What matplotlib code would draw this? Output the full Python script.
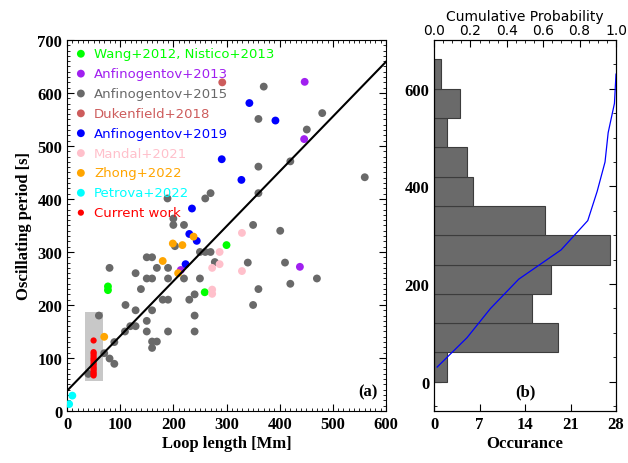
import matplotlib
matplotlib.use("Agg")
import matplotlib.pyplot as plt
from matplotlib.patches import Rectangle
from matplotlib.ticker import MultipleLocator
import numpy as np

# loop length [Mm], period [s] for each study
wang_x = [77, 77, 259, 300]
wang_y = [228, 235, 224, 313]
anf13_x = [447, 446, 438, 214]
anf13_y = [621, 513, 272, 266]
anf15_x = [370, 360, 480, 451, 360, 420, 560, 360, 189, 260, 270, 200, 200, 220, 350, 401,
           250, 260, 270, 150, 160, 278, 340, 410, 80, 169, 190, 129, 150, 160, 190, 220,
           250, 470, 420, 360, 139, 240, 180, 190, 230, 350, 110, 129, 160, 240, 60, 150,
           119, 129, 109, 150, 190, 240, 89, 160, 169, 160, 70, 80, 89, 40, 203]
anf15_y = [612, 551, 562, 531, 461, 471, 441, 411, 401, 401, 411, 363, 351, 351, 351, 340,
           300, 300, 300, 290, 290, 281, 280, 280, 270, 270, 270, 260, 250, 250, 250, 250,
           250, 250, 240, 230, 230, 220, 210, 210, 210, 200, 200, 190, 190, 180, 180, 170,
           160, 160, 150, 150, 150, 150, 130, 131, 131, 119, 109, 99, 89, 70, 311]
duk_x = [292]
duk_y = [620]
anf19_x = [343, 392, 291, 328, 235, 230, 244, 223]
anf19_y = [581, 548, 475, 436, 382, 334, 321, 277]
mandal_x = [329, 287, 287, 273, 329, 273, 273]
mandal_y = [336, 300, 277, 270, 264, 229, 221]
zhong_x = [238, 199, 217, 180, 209, 70]
zhong_y = [329, 316, 313, 283, 260, 140]
petrova_x = [10, 4]
petrova_y = [29, 13]
current_x = [50] * 15
current_y = [67, 70, 73, 77, 80, 83, 87, 90, 94, 97, 100, 104, 108, 111, 133]

# linear fit and highlighted region
fit_slope = 1.035
fit_intercept = 38
box_x = [33, 67]
box_y = [57, 187]

# histogram of periods
bin_edges = [0, 60, 120, 180, 240, 300, 360, 420, 480, 540, 600, 660]
counts = [2, 19, 15, 18, 27, 17, 6, 5, 2, 4, 1]
occ_ticks = [0, 7, 14, 21, 28]
cum_ticks = [0.0, 0.2, 0.4, 0.6, 0.8, 1.0]

serif = "Liberation Serif"
sans = "DejaVu Sans"

def style_ticks(ax):
  ax.tick_params(which="both", direction="in", top=True, right=True)
  ax.tick_params(which="major", length=5, width=0.8)
  ax.tick_params(which="minor", length=2.5, width=0.6)
  for lbl in ax.get_xticklabels() + ax.get_yticklabels():
    lbl.set_fontfamily(serif)
    lbl.set_fontweight("bold")
    lbl.set_fontsize(12)

def scatter_panel(ax):
  sets = [
    (wang_x, wang_y, "#00ff00", "Wang+2012, Nistico+2013"),
    (anf13_x, anf13_y, "#a020f0", "Anfinogentov+2013"),
    (anf15_x, anf15_y, "#696969", "Anfinogentov+2015"),
    (duk_x, duk_y, "#cd5c5c", "Dukenfield+2018"),
    (anf19_x, anf19_y, "#0000ff", "Anfinogentov+2019"),
    (mandal_x, mandal_y, "#ffc0cb", "Mandal+2021"),
    (zhong_x, zhong_y, "#ffa500", "Zhong+2022"),
    (petrova_x, petrova_y, "#00ffff", "Petrova+2022"),
  ]
  ax.add_patch(Rectangle((box_x[0], box_y[0]), box_x[1] - box_x[0], box_y[1] - box_y[0],
                         facecolor="#c8c8c8", edgecolor="none", zorder=1))
  handles = []
  for x, y, c, lab in sets:
    h = ax.scatter(x, y, s=32, color=c, edgecolors="none", label=lab, zorder=3)
    handles.append(h)
  h = ax.scatter(current_x, current_y, s=20, color="#ff0000", edgecolors="none",
                 label="Current work", zorder=4)
  handles.append(h)
  lx = np.array([0, 600])
  ax.plot(lx, fit_intercept + fit_slope * lx, color="black", lw=1.5, zorder=5)
  ax.set_xlim(0, 600)
  ax.set_ylim(0, 700)
  ax.xaxis.set_major_locator(MultipleLocator(100))
  ax.xaxis.set_minor_locator(MultipleLocator(10))
  ax.yaxis.set_major_locator(MultipleLocator(100))
  ax.yaxis.set_minor_locator(MultipleLocator(10))
  ax.set_xlabel("Loop length [Mm]", fontfamily=serif, fontweight="bold", fontsize=12, labelpad=2)
  ax.set_ylabel("Oscillating period [s]", fontfamily=serif, fontweight="bold", fontsize=12, labelpad=4)
  ax.legend(handles=handles, loc="upper left", frameon=False,
            labelcolor="markerfacecolor", handletextpad=0.5, labelspacing=0.52,
            borderaxespad=0.15, handlelength=1.0, scatterpoints=1,
            prop={"family": sans, "size": 9.5})
  ax.text(0.975, 0.03, "(a)", transform=ax.transAxes, ha="right", va="bottom",
          fontfamily=serif, fontweight="bold", fontsize=12)
  style_ticks(ax)

def hist_panel(ax):
  edges = np.array(bin_edges)
  ax.barh(edges[:-1], counts, height=np.diff(edges), align="edge",
          color="#6a6a6a", edgecolor="#3c3c3c", linewidth=0.8, zorder=2)
  ax.set_xlim(0, 28)
  ax.set_ylim(-60, 700)
  ax.set_xticks(occ_ticks)
  ax.yaxis.set_major_locator(MultipleLocator(200))
  ax.yaxis.set_minor_locator(MultipleLocator(50))
  ax.set_xlabel("Occurance", fontfamily=serif, fontweight="bold", fontsize=12, labelpad=2)
  ax.text(0.5, 0.03, "(b)", transform=ax.transAxes, ha="center", va="bottom",
          fontfamily=serif, fontweight="bold", fontsize=12)
  style_ticks(ax)
  ax.tick_params(axis="x", which="both", top=False)
  ax2 = ax.twiny()
  cum = np.cumsum(counts) / float(np.sum(counts))
  centers = (edges[:-1] + edges[1:]) / 2.0
  ax2.plot(cum, centers, color="blue", lw=0.9, zorder=3)
  ax2.set_xlim(0, 1)
  ax2.set_xticks(cum_ticks)
  ax2.set_xticklabels(["%.1f" % t for t in cum_ticks], fontfamily=sans, fontsize=10)
  ax2.xaxis.set_minor_locator(MultipleLocator(0.05))
  ax2.tick_params(which="both", direction="in")
  ax2.tick_params(which="major", length=5, width=0.8, pad=2)
  ax2.tick_params(which="minor", length=2.5, width=0.6)
  ax2.set_xlabel("Cumulative Probability", fontfamily=sans, fontsize=10, labelpad=2)

if __name__ == "__main__":
  fig = plt.figure(figsize=(6.28, 4.64), dpi=100)
  ax_a = fig.add_axes([0.1067, 0.1121, 0.5080, 0.7996])
  ax_b = fig.add_axes([0.6911, 0.1121, 0.2898, 0.7996])
  scatter_panel(ax_a)
  hist_panel(ax_b)
  fig.savefig("out.png", dpi=100)
